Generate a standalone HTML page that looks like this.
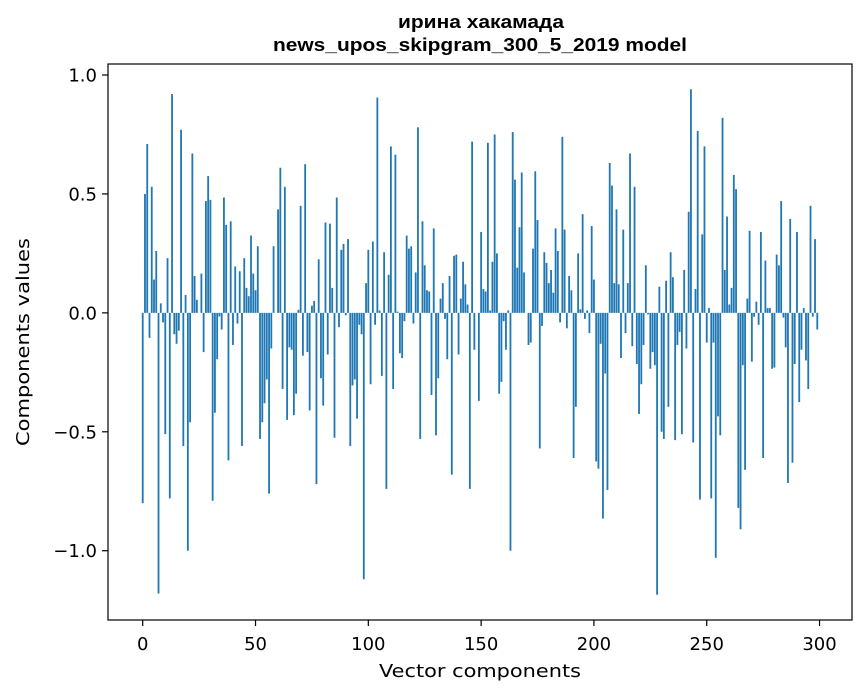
<!DOCTYPE html>
<html><head><meta charset="utf-8"><style>
html,body{margin:0;padding:0;background:#fff;}
svg{display:block;}
text{font-family:"DejaVu Sans","Liberation Sans",sans-serif;fill:#000;}
</style></head><body>
<svg id="chart" width="867" height="696" viewBox="0 0 867 696" xmlns="http://www.w3.org/2000/svg">
<rect x="0" y="0" width="867" height="696" fill="#fff"/>
<text x="481" y="28" text-anchor="middle" textLength="166" lengthAdjust="spacingAndGlyphs" style="font-family:'Liberation Sans',sans-serif;font-weight:bold;font-size:18px">ирина хакамада</text>
<text x="480" y="51" text-anchor="middle" textLength="414" lengthAdjust="spacingAndGlyphs" style="font-family:'Liberation Sans',sans-serif;font-weight:bold;font-size:18px">news_upos_skipgram_300_5_2019 model</text>
<g id="bars"></g>
<g id="axes"></g>
<rect x="108" y="64" width="744" height="556" fill="none" stroke="#000" stroke-width="1.2"/>
<text x="480" y="677" text-anchor="middle" font-size="18" textLength="202" lengthAdjust="spacingAndGlyphs">Vector components</text>
<text x="0" y="0" text-anchor="middle" font-size="18" textLength="208" lengthAdjust="spacingAndGlyphs" transform="translate(29,342) rotate(-90)">Components values</text>
</svg>
<script>
const values = [
-0.80,0.50,0.71,-0.105,0.53,0.14,0.26,-1.18,0.04,-0.04,
-0.51,0.23,-0.78,0.92,-0.09,-0.13,-0.075,0.77,-0.56,0.075,
-1.00,-0.46,0.67,0.155,0.055,0.0,0.165,-0.165,0.47,0.575,
0.475,-0.79,-0.42,-0.195,-0.015,-0.07,0.485,0.37,-0.62,0.385,
-0.135,0.195,-0.045,0.175,-0.56,0.23,0.105,0.07,0.325,0.165,
0.095,0.28,-0.53,-0.46,-0.38,-0.28,-0.76,-0.15,0.28,0.0,
0.435,0.61,-0.32,0.53,-0.45,-0.145,-0.155,-0.43,-0.34,0.013,
0.45,-0.18,0.625,-0.165,-0.41,0.03,0.05,-0.72,0.225,-0.275,
-0.39,0.38,-0.175,0.375,0.105,-0.525,0.485,-0.06,0.265,0.29,
-0.01,0.31,-0.56,-0.305,-0.28,-0.445,-0.05,-0.09,-1.12,0.125,
0.265,-0.30,0.30,-0.05,0.905,0.01,-0.265,0.255,-0.74,0.16,
0.70,-0.32,0.665,0.005,-0.17,-0.19,-0.035,0.325,0.27,0.28,
-0.045,0.17,0.78,-0.53,0.385,0.20,0.095,0.09,-0.345,0.355,
-0.515,-0.275,0.06,0.125,-0.025,-0.195,0.155,-0.68,0.24,0.245,
-0.175,0.06,0.215,0.12,0.035,-0.74,0.72,-0.155,0.0,-0.37,
0.34,0.10,0.09,0.715,0.01,0.215,0.75,0.25,-0.34,-0.29,
-0.035,-0.155,0.01,-1.00,0.76,0.56,0.19,0.36,0.59,0.17,
0.0,-0.135,-0.125,0.27,0.595,0.39,-0.57,-0.055,0.255,0.21,
0.125,0.18,0.085,0.355,0.26,-0.04,0.74,0.35,-0.065,0.155,
0.095,-0.61,-0.395,0.25,0.015,0.415,-0.025,0.01,-0.085,0.365,
0.14,-0.625,-0.655,-0.13,-0.865,-0.255,-0.745,0.63,0.535,0.125,
0.435,0.12,-0.19,0.35,-0.085,0.125,0.67,-0.14,0.53,-0.215,
-0.425,-0.30,-0.135,0.20,-0.006,-0.235,-0.165,-0.22,-1.185,0.11,
-0.50,-0.53,0.135,-0.395,0.255,0.15,-0.535,-0.135,-0.08,-0.51,
0.18,-0.15,0.425,0.94,-0.545,0.10,0.765,-0.785,0.33,0.70,
-0.125,0.02,-0.78,-0.125,-1.03,-0.435,-0.515,0.82,0.18,0.405,
0.035,0.105,0.58,0.52,-0.82,-0.91,-0.22,-0.66,0.06,0.345,
-0.205,-0.016,0.047,-0.05,0.34,-0.61,0.22,0.02,0.02,-0.235,
-0.23,0.245,0.20,0.47,-0.02,-0.145,-0.715,0.395,-0.63,-0.215,
0.34,-0.375,-0.155,0.02,-0.20,-0.32,0.45,-0.016,0.31,-0.07
];
const xTicks = [0,50,100,150,200,250,300];
const yTicks = [1.0,0.5,0.0,-0.5,-1.0];
const yTickLabels = ["1.0","0.5","0.0","\u22120.5","\u22121.0"];

const NS="http://www.w3.org/2000/svg";
const L=108,R=852,T=64,B=620;
const n=values.length;
const xmin0=-0.4,xmax0=n-1+0.4,xm=(xmax0-xmin0)*0.05;
const xmin=xmin0-xm,xmax=xmax0+xm;
let vmin=Math.min(0,...values),vmax=Math.max(0,...values);
const ym=(vmax-vmin)*0.05;
const ymin=vmin-ym,ymax=vmax+ym;
function xs(v){return L+(v-xmin)/(xmax-xmin)*(R-L);}
function ys(v){return B-(v-ymin)/(ymax-ymin)*(B-T);}
const bars=document.getElementById('bars');
values.forEach((v,i)=>{
  const r=document.createElementNS(NS,'rect');
  const x0=xs(i-0.4),x1=xs(i+0.4);
  const y0=ys(Math.max(v,0)),y1=ys(Math.min(v,0));
  r.setAttribute('x',x0);r.setAttribute('width',x1-x0);
  r.setAttribute('y',y0);r.setAttribute('height',Math.max(y1-y0,0));
  r.setAttribute('fill','#1f77b4');
  
  
  bars.appendChild(r);
});
const axes=document.getElementById('axes');
xTicks.forEach((t)=>{
  const x=xs(t);
  const l=document.createElementNS(NS,'line');
  l.setAttribute('x1',x);l.setAttribute('x2',x);l.setAttribute('y1',B);l.setAttribute('y2',B+6);
  l.setAttribute('stroke','#000');l.setAttribute('stroke-width','1.2');
  
  
  axes.appendChild(l);
  const tx=document.createElementNS(NS,'text');
  tx.setAttribute('x',x);tx.setAttribute('y',B+30);tx.setAttribute('text-anchor','middle');tx.setAttribute('font-size','18');
  tx.textContent=String(t);
  
  
  axes.appendChild(tx);
});
yTicks.forEach((t,k)=>{
  const y=ys(t);
  const l=document.createElementNS(NS,'line');
  l.setAttribute('x1',L-6);l.setAttribute('x2',L);l.setAttribute('y1',y);l.setAttribute('y2',y);
  l.setAttribute('stroke','#000');l.setAttribute('stroke-width','1.2');
  
  
  axes.appendChild(l);
  const tx=document.createElementNS(NS,'text');
  tx.setAttribute('x',L-11);tx.setAttribute('y',y+6.5);tx.setAttribute('text-anchor','end');tx.setAttribute('font-size','18');
  tx.textContent=yTickLabels[k];
  
  
  axes.appendChild(tx);
});
</script>
</body></html>
